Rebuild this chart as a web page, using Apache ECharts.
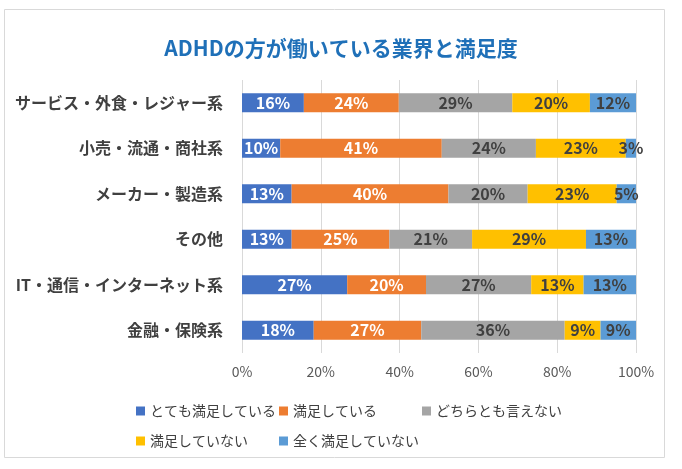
<!DOCTYPE html>
<html>
<head>
<meta charset="utf-8">
<script src="https://cdn.jsdelivr.net/npm/echarts@6/dist/echarts.min.js"></script>
<style>
html,body{margin:0;padding:0;background:#fff;}
#c{width:682px;height:469px;}
</style>
</head>
<body>
<div id="c"></div>
<script>
var categories = ['サービス・外食・レジャー系','小売・流通・商社系','メーカー・製造系','その他','IT・通信・インターネット系','金融・保険系'];
var seriesNames = ['とても満足している','満足している','どちらとも言えない','満足していない','全く満足していない'];
var verySatisfied   = [15.7, 9.7, 12.6, 12.6, 26.7, 18.2];
var satisfied       = [24.1, 41.0, 39.8, 24.8, 20.0, 27.3];
var neutral         = [28.8, 23.9, 20.1, 21.0, 26.7, 36.4];
var notSatisfied    = [19.7, 22.8, 22.6, 28.9, 13.3, 9.1];
var notAtAll        = [11.7, 2.6, 4.9, 12.7, 13.3, 9.0];
var xTicks = [0, 20, 40, 60, 80, 100];

var colors = ['#4472C4','#ED7D31','#A5A5A5','#FFC000','#5B9BD5'];
var labelColors = ['#ffffff','#ffffff','#404040','#404040','#404040'];
var allData = [verySatisfied, satisfied, neutral, notSatisfied, notAtAll];
var FONT = '"Noto Sans CJK JP", "Noto Sans", sans-serif';

var chart = echarts.init(document.getElementById('c'));
var series = seriesNames.map(function(name, i){
  return {
    name: name,
    type: 'bar',
    stack: 'total',
    barWidth: 19,
    data: allData[i],
    itemStyle: {color: colors[i]},
    label: {
      show: true,
      position: 'inside',
      color: labelColors[i],
      fontFamily: FONT,
      fontWeight: 'bold',
      fontSize: 16,
      formatter: function(p){ return Math.round(p.value) + '%'; }
    }
  };
});

chart.setOption({
  animation: false,
  textStyle: {fontFamily: FONT},
  graphic: [{
    type: 'rect',
    shape: {x: 4.5, y: 9.5, width: 660, height: 448},
    style: {fill: 'none', stroke: '#d9d9d9', lineWidth: 1},
    silent: true
  }],
  title: {
    text: 'ADHDの方が働いている業界と満足度',
    left: 'center',
    top: 33,
    textStyle: {color: '#1F70B8', fontSize: 21, fontWeight: 'bold', fontFamily: FONT}
  },
  grid: {left: 242, right: 46, top: 80, bottom: 116, containLabel: false},
  xAxis: {
    type: 'value',
    min: xTicks[0],
    max: xTicks[xTicks.length - 1],
    interval: xTicks[1] - xTicks[0],
    axisLine: {show: false},
    axisTick: {show: false},
    splitLine: {lineStyle: {color: '#d9d9d9'}},
    axisLabel: {formatter: '{value}%', color: '#595959', fontSize: 14, margin: 12, fontFamily: FONT}
  },
  yAxis: {
    type: 'category',
    inverse: true,
    data: categories,
    axisLine: {show: false},
    axisTick: {show: false},
    axisLabel: {color: '#404040', fontSize: 16, fontWeight: 'bold', margin: 19, fontFamily: FONT}
  },
  legend: {
    data: seriesNames,
    left: 131,
    top: 391,
    width: 440,
    itemGap: 0,
    itemWidth: 9,
    itemHeight: 9,
    icon: 'rect',
    textStyle: {color: '#404040', fontSize: 14, width: 129, lineHeight: 30, fontFamily: FONT}
  },
  series: series
});
</script>
</body>
</html>
